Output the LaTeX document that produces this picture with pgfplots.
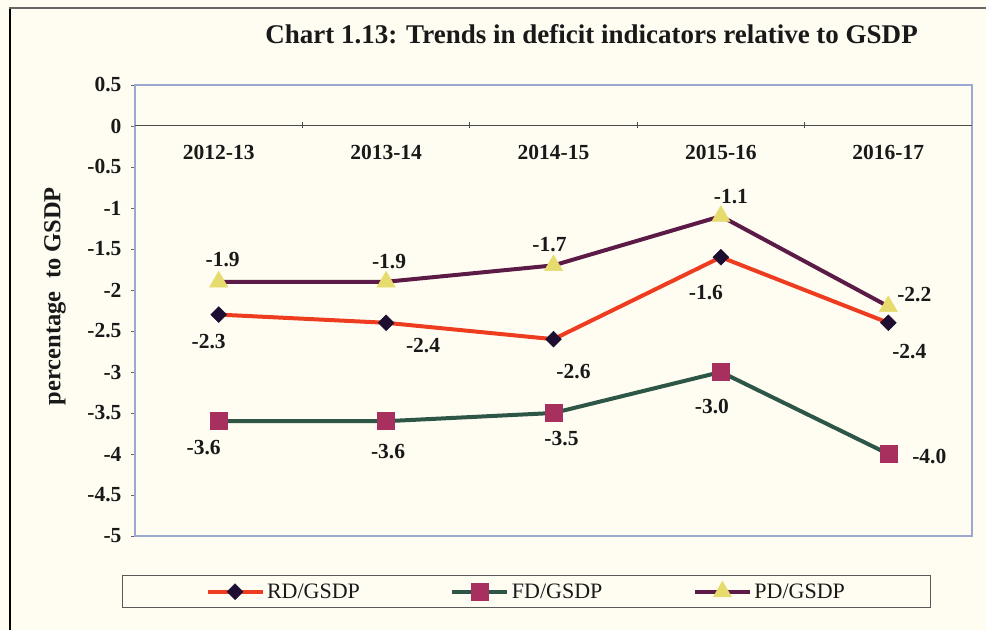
\documentclass[border=0pt]{standalone}
\usepackage{fontspec}
\setmainfont{Liberation Serif}
\usepackage{pgfplots}
\pgfplotsset{compat=1.18}
\definecolor{bg}{RGB}{255,253,242}
\definecolor{rdline}{RGB}{238,60,32}
\definecolor{rdmark}{RGB}{30,14,50}
\definecolor{fdline}{RGB}{46,86,70}
\definecolor{fdmark}{RGB}{168,48,94}
\definecolor{pdline}{RGB}{92,26,70}
\definecolor{pdmark}{RGB}{230,220,110}
\definecolor{boxblue}{RGB}{155,168,210}
\definecolor{txt}{RGB}{25,25,25}

\pgfplotstableread{
x rd fd pd
0 -2.3 -3.6 -1.9
1 -2.4 -3.6 -1.9
2 -2.6 -3.5 -1.7
3 -1.6 -3.0 -1.1
4 -2.4 -4.0 -2.2
}\datatab

\begin{document}
\begin{tikzpicture}[x=1bp,y=1bp,
  lbl/.style={font=\fontsize{21.5bp}{25bp}\selectfont\bfseries, text=txt, anchor=center},
  catlbl/.style={font=\fontsize{21.5bp}{25bp}\selectfont\bfseries, text=txt, anchor=center}]
\path[use as bounding box] (0,0) rectangle (986,630);
\fill[bg] (0,0) rectangle (986,630);
\draw[black, line width=2bp] (10,0) -- (10,622);
\draw[gray!80!black, line width=1.5bp] (9,622) -- (986,622);
\node[font=\fontsize{27bp}{32bp}\selectfont\bfseries, text=txt] at (591.5,596) {Chart 1.13: Trends in deficit indicators relative to GSDP};

\begin{axis}[
  at={(135bp,94bp)}, anchor=south west,
  scale only axis, width=837bp, height=451bp,
  xmin=-0.5, xmax=4.5, ymin=-5, ymax=0.5,
  xtick=\empty,
  ytick={-5,-4.5,-4,-3.5,-3,-2.5,-2,-1.5,-1,-0.5,0,0.5},
  yticklabels={-5,-4.5,-4,-3.5,-3,-2.5,-2,-1.5,-1,-0.5,0,0.5},
  ytick pos=left, tick align=outside, major tick length=4bp,
  ytick style={color=gray!80!black, line width=0.8bp},
  yticklabel style={font=\fontsize{21.5bp}{25bp}\selectfont\bfseries, text=txt, xshift=-6bp},
  axis line style={color=boxblue, line width=1.2bp},
  ylabel={percentage\ \ to GSDP},
  every axis y label/.style={at={(rel axis cs:-0.0956,0.532)}, rotate=90, anchor=center,
     font=\fontsize{24.5bp}{28bp}\selectfont\bfseries, text=txt},
  clip=false,
  legend columns=3,
  legend cell align=left,
  legend style={at={(rel axis cs:0.4677,-0.123)}, anchor=center,
     draw=gray!70!black, line width=0.8bp, fill=none,
     font=\fontsize{22bp}{26bp}\selectfont, text=txt,
     inner xsep=83bp, inner ysep=6bp,
     nodes={inner xsep=2.5bp},
     /tikz/every even column/.append style={column sep=88bp}},
  legend image code/.code={\draw[#1, mark repeat=2, mark phase=2] plot coordinates {(0bp,0bp) (27.5bp,0bp) (55bp,0bp)};},
]
% zero line with category tick marks
\draw[gray!60!black, line width=1bp] (axis cs:-0.5,0) -- (axis cs:4.5,0);
\draw[gray!60!black, line width=0.8bp] ([yshift=-2bp]axis cs:0.5,0) -- ([yshift=4bp]axis cs:0.5,0);
\draw[gray!60!black, line width=0.8bp] ([yshift=-2bp]axis cs:1.5,0) -- ([yshift=4bp]axis cs:1.5,0);
\draw[gray!60!black, line width=0.8bp] ([yshift=-2bp]axis cs:2.5,0) -- ([yshift=4bp]axis cs:2.5,0);
\draw[gray!60!black, line width=0.8bp] ([yshift=-2bp]axis cs:3.5,0) -- ([yshift=4bp]axis cs:3.5,0);
\node[catlbl] at ([yshift=-26bp]axis cs:0,0) {2012-13};
\node[catlbl] at ([yshift=-26bp]axis cs:1,0) {2013-14};
\node[catlbl] at ([yshift=-26bp]axis cs:2,0) {2014-15};
\node[catlbl] at ([yshift=-26bp]axis cs:3,0) {2015-16};
\node[catlbl] at ([yshift=-26bp]axis cs:4,0) {2016-17};

\addplot[rdline, line width=4bp, mark=square*, mark size=5.6bp,
  mark options={rotate=45, fill=rdmark, draw=rdmark, line width=0.5bp}] table[x=x, y=rd] {\datatab};
\addlegendentry{RD/GSDP}
\addplot[fdline, line width=4bp, mark=square*, mark size=8.5bp,
  mark options={fill=fdmark, draw=fdmark, line width=0.5bp}] table[x=x, y=fd] {\datatab};
\addlegendentry{FD/GSDP}
\addplot[pdline, line width=4bp, mark=triangle*, mark size=10.5bp,
  mark options={fill=pdmark, draw=pdmark, line width=0.5bp}] table[x=x, y=pd] {\datatab};
\addlegendentry{PD/GSDP}

% data labels
\node[lbl, xshift=4bp, yshift=22bp] at (axis cs:0,-1.9) {-1.9};
\node[lbl, xshift=3bp, yshift=20bp] at (axis cs:1,-1.9) {-1.9};
\node[lbl, xshift=-4bp, yshift=21bp] at (axis cs:2,-1.7) {-1.7};
\node[lbl, xshift=10bp, yshift=20bp] at (axis cs:3,-1.1) {-1.1};
\node[lbl, xshift=26bp, yshift=12bp] at (axis cs:4,-2.2) {-2.2};

\node[lbl, xshift=-10bp, yshift=-27bp] at (axis cs:0,-2.3) {-2.3};
\node[lbl, xshift=37bp, yshift=-23bp] at (axis cs:1,-2.4) {-2.4};
\node[lbl, xshift=20bp, yshift=-32bp] at (axis cs:2,-2.6) {-2.6};
\node[lbl, xshift=-15bp, yshift=-35bp] at (axis cs:3,-1.6) {-1.6};
\node[lbl, xshift=21bp, yshift=-29bp] at (axis cs:4,-2.4) {-2.4};

\node[lbl, xshift=-15bp, yshift=-26bp] at (axis cs:0,-3.6) {-3.6};
\node[lbl, xshift=2bp, yshift=-30bp] at (axis cs:1,-3.6) {-3.6};
\node[lbl, xshift=8bp, yshift=-26bp] at (axis cs:2,-3.5) {-3.5};
\node[lbl, xshift=-9bp, yshift=-35bp] at (axis cs:3,-3.0) {-3.0};
\node[lbl, xshift=41bp, yshift=-3bp] at (axis cs:4,-4.0) {-4.0};
\end{axis}
\end{tikzpicture}
\end{document}
